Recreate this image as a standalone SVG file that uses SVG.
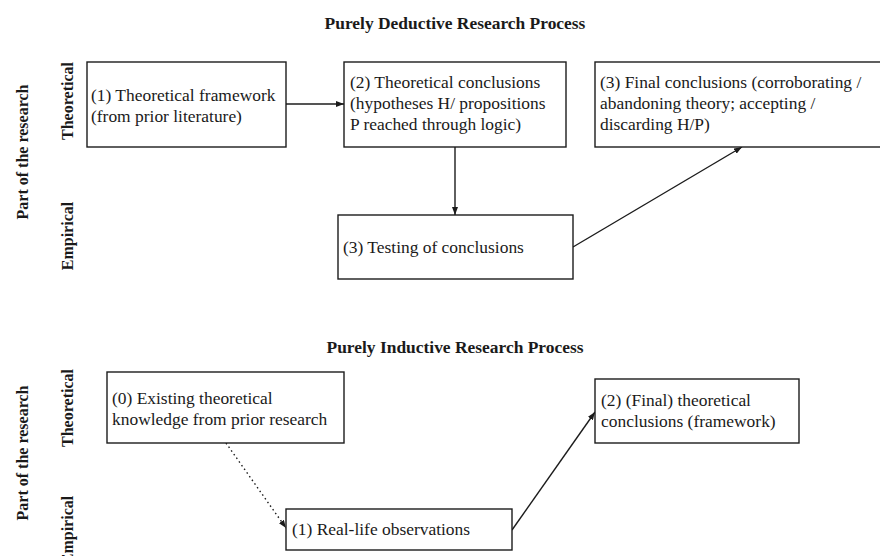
<svg xmlns="http://www.w3.org/2000/svg" width="880" height="556" viewBox="0 0 880 556">
  <style>
    .box { fill: #ffffff; stroke: #1c1c1c; stroke-width: 1.4; }
    .t { font-family: "Liberation Serif", "Times New Roman", serif; font-size: 16px; fill: #1a1a1a; }
    .b { font-family: "Liberation Serif", "Times New Roman", serif; font-size: 16px; font-weight: bold; fill: #1a1a1a; }
    .side { text-anchor: middle; }
    .edge { stroke: #1c1c1c; stroke-width: 1.4; fill: none; }
    .dotted { stroke-dasharray: 1.5 3; }
  </style>
  <defs>
    <marker id="arrow" viewBox="0 0 8 6" refX="8" refY="3" markerWidth="8" markerHeight="6" markerUnits="userSpaceOnUse" orient="auto">
      <path d="M0,0 L8,3 L0,6 z" fill="#1c1c1c"/>
    </marker>
  </defs>
  <rect width="880" height="556" fill="#ffffff"/>

  <!-- Section titles (type set slightly wide) -->
  <text class="b" text-anchor="middle" transform="translate(455 29) scale(1.09 1)">Purely Deductive Research Process</text>
  <text class="b" text-anchor="middle" transform="translate(455 353) scale(1.09 1)">Purely Inductive  Research Process</text>

  <!-- Vertical row labels -->
  <g id="labels-deductive">
    <text class="b side" transform="translate(28 152) rotate(-90)">Part of the research</text>
    <text class="b side" transform="translate(73 101) rotate(-90)">Theoretical</text>
    <text class="b side" transform="translate(73 236) rotate(-90)">Empirical</text>
  </g>
  <g id="labels-inductive">
    <text class="b side" transform="translate(28 453) rotate(-90)">Part of the research</text>
    <text class="b side" transform="translate(73 408) rotate(-90)">Theoretical</text>
    <text class="b side" transform="translate(73 530) rotate(-90)">Empirical</text>
  </g>

  <!-- Connectors -->
  <g id="connectors">
    <line class="edge" x1="286" y1="104" x2="344" y2="104" marker-end="url(#arrow)"/>
    <line class="edge" x1="455" y1="147" x2="455" y2="215" marker-end="url(#arrow)"/>
    <line class="edge" x1="573" y1="247" x2="742" y2="147" marker-end="url(#arrow)"/>
    <line class="edge dotted" x1="226" y1="443" x2="286" y2="528" marker-end="url(#arrow)"/>
    <line class="edge" x1="512" y1="530" x2="595" y2="412" marker-end="url(#arrow)"/>
  </g>

  <!-- Deductive process nodes -->
  <g id="d-framework">
    <rect class="box" x="87" y="62" width="199" height="85"/>
    <text class="t" transform="translate(91 101) scale(1.09 1)">
      <tspan x="0" y="0">(1) Theoretical framework</tspan>
      <tspan x="0" y="21">(from prior literature)</tspan>
    </text>
  </g>
  <g id="d-theoretical-conclusions">
    <rect class="box" x="344" y="62" width="222" height="85"/>
    <text class="t" transform="translate(350 88) scale(1.09 1)">
      <tspan x="0" y="0">(2) Theoretical conclusions</tspan>
      <tspan x="0" y="21">(hypotheses H/ propositions</tspan>
      <tspan x="0" y="42">P reached through logic)</tspan>
    </text>
  </g>
  <g id="d-final-conclusions">
    <rect class="box" x="595" y="62" width="300" height="85"/>
    <text class="t" transform="translate(600 88) scale(1.09 1)">
      <tspan x="0" y="0">(3) Final conclusions (corroborating /</tspan>
      <tspan x="0" y="21">abandoning theory; accepting /</tspan>
      <tspan x="0" y="42">discarding H/P)</tspan>
    </text>
  </g>
  <g id="d-testing">
    <rect class="box" x="338" y="215" width="235" height="64"/>
    <text class="t" transform="translate(343 253) scale(1.09 1)">(3) Testing of conclusions</text>
  </g>

  <!-- Inductive process nodes -->
  <g id="i-existing-knowledge">
    <rect class="box" x="107" y="372" width="237" height="71"/>
    <text class="t" transform="translate(112 404) scale(1.09 1)">
      <tspan x="0" y="0">(0) Existing theoretical</tspan>
      <tspan x="0" y="21">knowledge from prior research</tspan>
    </text>
  </g>
  <g id="i-observations">
    <rect class="box" x="286" y="509" width="226" height="41"/>
    <text class="t" transform="translate(292 535) scale(1.09 1)">(1) Real-life observations</text>
  </g>
  <g id="i-final-conclusions">
    <rect class="box" x="595" y="379" width="204" height="64"/>
    <text class="t" transform="translate(601 406) scale(1.09 1)">
      <tspan x="0" y="0">(2) (Final) theoretical</tspan>
      <tspan x="0" y="21">conclusions (framework)</tspan>
    </text>
  </g>
</svg>
